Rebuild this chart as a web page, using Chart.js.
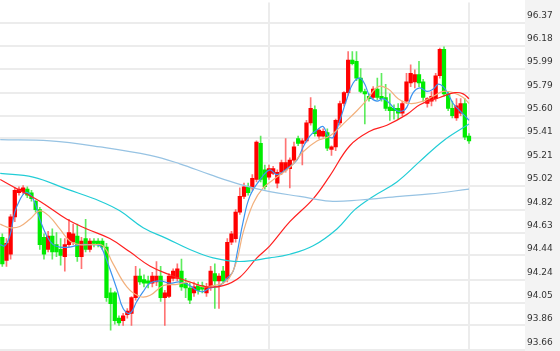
<!DOCTYPE html>
<html>
<head>
<meta charset="utf-8">
<script src="https://cdn.jsdelivr.net/npm/chart.js@4.4.0/dist/chart.umd.min.js"></script>
<style>
  html, body { margin: 0; padding: 0; background: #fff; overflow: hidden; }
  #wrap { width: 560px; height: 351px; overflow: hidden; }
  canvas { display: block; }
</style>
</head>
<body>
<div id="wrap"><canvas id="myChart" width="560" height="352"></canvas></div>
<script>
// candles, one per index 0..112
var candleOpen = [94.59,94.40,94.45,94.76,94.96,94.97,94.99,94.96,94.89,94.82,
  94.59,94.49,94.60,94.53,94.49,94.43,94.53,94.55,94.60,94.43,
  94.58,94.49,94.56,94.56,94.56,94.51,94.13,94.13,93.92,93.90,
  93.95,93.96,94.09,94.27,94.24,94.23,94.21,94.22,94.27,94.09,
  94.10,94.25,94.25,94.31,94.21,94.17,94.13,94.19,94.19,94.13,
  94.19,94.29,94.23,94.31,94.25,94.55,94.58,94.80,94.93,95.01,
  95.00,95.07,95.37,95.15,95.09,95.12,95.04,95.13,95.15,95.16,
  95.23,95.41,95.37,95.39,95.54,95.65,95.43,95.43,95.46,95.32,
  95.34,95.54,95.70,95.79,96.06,96.05,95.91,95.80,95.76,95.75,
  95.82,95.76,95.75,95.67,95.66,95.66,95.62,95.72,95.87,95.88,
  95.94,95.88,95.70,95.72,95.74,95.93,96.15,95.78,95.66,95.58,
  95.62,95.70,95.43];
var candleHigh = [94.62,94.58,94.78,95.00,95.01,95.02,95.01,94.98,94.90,94.84,
  94.62,94.64,94.66,94.63,94.58,94.58,94.74,94.70,94.70,94.59,
  94.74,94.58,94.58,94.58,94.58,94.54,94.17,94.14,93.94,93.96,
  94.00,94.10,94.35,94.33,94.28,94.27,94.30,94.39,94.35,94.15,
  94.29,94.33,94.37,94.41,94.25,94.21,94.22,94.22,94.22,94.21,
  94.35,94.37,94.29,94.35,94.58,94.64,94.82,95.00,95.04,95.04,
  95.11,95.39,95.43,95.19,95.19,95.18,95.15,95.23,95.41,95.25,
  95.38,95.43,95.41,95.56,95.75,95.68,95.49,95.49,95.49,95.35,
  95.57,95.72,95.80,96.13,96.13,96.13,95.99,95.82,95.78,95.84,
  95.91,95.95,95.86,95.78,95.69,95.70,95.72,95.95,96.02,95.98,
  96.05,95.90,95.75,95.80,95.95,96.16,96.17,95.80,95.72,95.74,
  95.74,95.74,95.45];
var candleLow = [94.35,94.35,94.41,94.72,94.94,94.95,94.92,94.89,94.80,94.49,
  94.41,94.47,94.41,94.43,94.36,94.31,94.51,94.53,94.39,94.33,
  94.47,94.47,94.51,94.51,94.49,94.06,93.82,93.87,93.86,93.86,
  93.92,93.86,94.07,94.20,94.18,94.17,94.18,94.19,94.06,93.86,
  94.09,94.23,94.23,94.15,94.09,94.04,94.10,94.12,94.13,94.10,
  94.15,94.00,94.00,94.21,94.22,94.53,94.55,94.78,94.91,94.94,
  94.98,95.05,95.05,94.99,95.07,95.11,95.00,95.11,95.13,95.00,
  95.21,95.35,95.19,95.38,95.52,95.43,95.41,95.42,95.31,95.27,
  95.31,95.52,95.68,95.77,96.02,95.89,95.79,95.53,95.72,95.74,
  95.73,95.72,95.64,95.56,95.57,95.57,95.60,95.70,95.84,95.83,
  95.84,95.72,95.67,95.68,95.72,95.91,95.76,95.64,95.58,95.56,
  95.60,95.40,95.37];
var candleClose = [94.37,94.54,94.76,94.98,94.99,95.00,94.94,94.91,94.82,94.53,
  94.45,94.60,94.47,94.47,94.44,94.53,94.63,94.62,94.43,94.56,
  94.49,94.56,94.54,94.53,94.51,94.09,94.04,93.90,93.88,93.94,
  93.98,94.09,94.27,94.22,94.21,94.21,94.27,94.27,94.09,94.13,
  94.27,94.31,94.33,94.18,94.17,94.07,94.18,94.15,94.16,94.18,
  94.31,94.23,94.27,94.23,94.55,94.62,94.80,94.93,95.01,94.96,
  95.08,95.38,95.07,95.01,95.16,95.16,95.13,95.21,95.21,95.23,
  95.34,95.37,95.39,95.54,95.66,95.45,95.48,95.47,95.33,95.34,
  95.56,95.70,95.79,96.06,96.03,95.91,95.80,95.78,95.74,95.82,
  95.75,95.74,95.66,95.64,95.64,95.62,95.70,95.88,95.95,95.94,
  95.87,95.75,95.74,95.76,95.93,96.15,95.78,95.66,95.60,95.68,
  95.70,95.42,95.39];

// moving averages: [candle index, price]
var ma5 = [[-0.5,94.53],[0.6,94.52],[1.8,94.60],[3,94.80],[4.2,94.90],[5.4,94.96],[6.6,94.95],
  [7.8,94.88],[9,94.74],[10.7,94.60],[12.2,94.53],[13.8,94.51],[16.2,94.51],[18.6,94.53],
  [21,94.53],[23.4,94.52],[24.6,94.44],[25.8,94.33],[27.5,94.16],[29,94.00],[30.6,93.96],
  [32.3,94.06],[33.8,94.14],[35.4,94.21],[37.8,94.23],[40.2,94.21],[42.6,94.22],[45,94.19],
  [46.7,94.15],[48.2,94.14],[49.8,94.17],[52.2,94.19],[53.9,94.25],[55.4,94.31],[56.3,94.45],
  [57.8,94.72],[59.4,94.93],[61.9,95.07],[64.2,95.15],[65.9,95.11],[68.3,95.16],[70.7,95.23],
  [72.2,95.34],[73.8,95.43],[75.5,95.48],[77,95.51],[78.2,95.43],[79.4,95.42],[81,95.56],
  [82.7,95.74],[84.2,95.87],[85.8,95.91],[87,95.86],[88.2,95.76],[89.9,95.72],[91.4,95.74],
  [93,95.70],[94.7,95.64],[96.2,95.64],[97.1,95.67],[98.6,95.79],[100.2,95.83],[101.9,95.80],
  [103.4,95.82],[104.6,95.86],[105.8,95.84],[107,95.78],[108.2,95.70],[109.8,95.64],
  [111.5,95.58],[112,95.56]];
var ma10 = [[-0.5,94.70],[1.8,94.67],[4.2,94.68],[6.6,94.74],[9,94.81],[11.4,94.76],[13.8,94.66],
  [16.2,94.56],[18.6,94.53],[21.8,94.53],[24.2,94.52],[26.6,94.37],[29.9,94.18],[33,94.10],
  [35.5,94.11],[38.6,94.19],[41.9,94.20],[45,94.22],[48.2,94.18],[50.6,94.19],[53,94.21],
  [54.6,94.26],[56.3,94.40],[57.8,94.63],[60.2,94.87],[62.6,95.00],[65.9,95.09],[69,95.17],
  [72.2,95.30],[75.5,95.39],[78.6,95.43],[82.7,95.56],[85.1,95.64],[87.5,95.73],[90.2,95.84],
  [92.6,95.82],[95,95.74],[97.8,95.70],[101,95.72],[103.4,95.76],[105.8,95.80],[108.2,95.79],
  [110.6,95.75],[112,95.70]];
var ma20 = [[-0.5,95.07],[4.2,94.98],[9,94.89],[15.5,94.74],[20.3,94.66],[25.8,94.58],[30.6,94.47],
  [35.5,94.35],[40.2,94.28],[45,94.22],[49.1,94.18],[53,94.19],[57,94.26],[61.1,94.42],
  [64.2,94.52],[69,94.72],[74.6,94.91],[78.6,95.10],[83.4,95.35],[88.2,95.47],[92.3,95.52],
  [97.1,95.61],[100.2,95.69],[105,95.75],[108.6,95.79],[110.6,95.78],[112,95.74]];
var ma60 = [[-0.5,95.12],[7.4,95.09],[15.5,94.99],[23.5,94.89],[28.2,94.81],[33.8,94.67],
  [39.5,94.58],[45,94.49],[50.6,94.42],[57,94.39],[64.2,94.42],[69,94.45],[74.6,94.52],
  [80.3,94.66],[84.6,94.82],[89,94.93],[94.7,95.05],[100.2,95.22],[105.8,95.39],[112,95.53]];
var ma120 = [[-0.5,95.40],[11.5,95.39],[23.5,95.34],[35.5,95.27],[42.6,95.20],[49.9,95.11],
  [57,95.03],[64.2,94.97],[71.4,94.93],[78.6,94.89],[85.8,94.90],[95.4,94.93],[102.6,94.95],
  [112,94.99]];

var tickLabels = ['93.66','93.86','94.05','94.24','94.44','94.63','94.82','95.02',
  '95.21','95.41','95.60','95.79','95.99','96.18','96.37'];
var dayBreaks = [64, 112];

var UP = '#ff0000', DOWN = '#00ec00';
var UP_WICK = 'rgba(255,70,70,0.75)', DOWN_WICK = 'rgba(40,230,40,0.75)';

function isUp(i) { return candleClose[i] >= candleOpen[i]; }

var bodies = candleOpen.map((o, i) => ({ x: i, y: [o, candleClose[i]] }));
var wicks = candleLow.map((l, i) => ({ x: i, y: [l, candleHigh[i]] }));
var bodyColors = candleOpen.map((o, i) => isUp(i) ? UP : DOWN);
var wickColors = candleOpen.map((o, i) => isUp(i) ? UP_WICK : DOWN_WICK);

function maLine(points, color) {
    return {
        type: 'line',
        data: points.map(p => ({ x: p[0], y: p[1] })),
        borderColor: color,
        borderWidth: 1.2,
        pointRadius: 0,
        tension: 0.4,
        fill: false,
        order: 0
    };
}

const axisPanel = {
    id: 'axisPanel',
    beforeDraw(chart) {
        const s = chart.scales.y;
        const ctx = chart.ctx;
        ctx.save();
        ctx.fillStyle = '#f3f3f3';
        ctx.fillRect(s.left, 0, chart.width - s.left, chart.height);
        ctx.restore();
    }
};

new Chart(document.getElementById('myChart'), {
    type: 'bar',
    data: {
        datasets: [
            maLine(ma120, '#97c3e3'),
            maLine(ma60, '#22cdd6'),
            maLine(ma20, '#ff2020'),
            maLine(ma10, '#f2b07c'),
            maLine(ma5, '#3b93f0'),
            {
                data: bodies,
                backgroundColor: bodyColors,
                barThickness: 3.6,
                minBarLength: 1,
                grouped: false,
                borderWidth: 0,
                order: 1
            },
            {
                data: wicks,
                backgroundColor: wickColors,
                barThickness: 1,
                grouped: false,
                borderWidth: 0,
                order: 2
            }
        ]
    },
    options: {
        responsive: false,
        animation: false,
        layout: { padding: 0 },
        plugins: { legend: { display: false }, tooltip: { enabled: false } },
        scales: {
            x: {
                type: 'linear',
                min: -0.552,
                max: 125.44,
                offset: false,
                afterBuildTicks: s => { s.ticks = dayBreaks.map(v => ({ value: v })); },
                afterFit: s => { s.height = 0; },
                grid: { color: '#ececec', lineWidth: 2, drawTicks: false, offset: false },
                border: { display: false },
                ticks: { display: false }
            },
            y: {
                type: 'linear',
                position: 'right',
                min: 93.66,
                max: 96.538,
                afterBuildTicks: s => { s.ticks = tickLabels.map(t => ({ value: parseFloat(t) })); },
                afterFit: s => { s.width = 35; },
                grid: { color: '#ececec', lineWidth: 2, drawTicks: false },
                border: { display: false },
                ticks: {
                    padding: 2,
                    labelOffset: -7,
                    color: '#333',
                    font: { family: 'DejaVu Sans', size: 9, lineHeight: 0.1 },
                    callback: v => v.toFixed(2)
                }
            }
        }
    },
    plugins: [axisPanel]
});
</script>
</body>
</html>
